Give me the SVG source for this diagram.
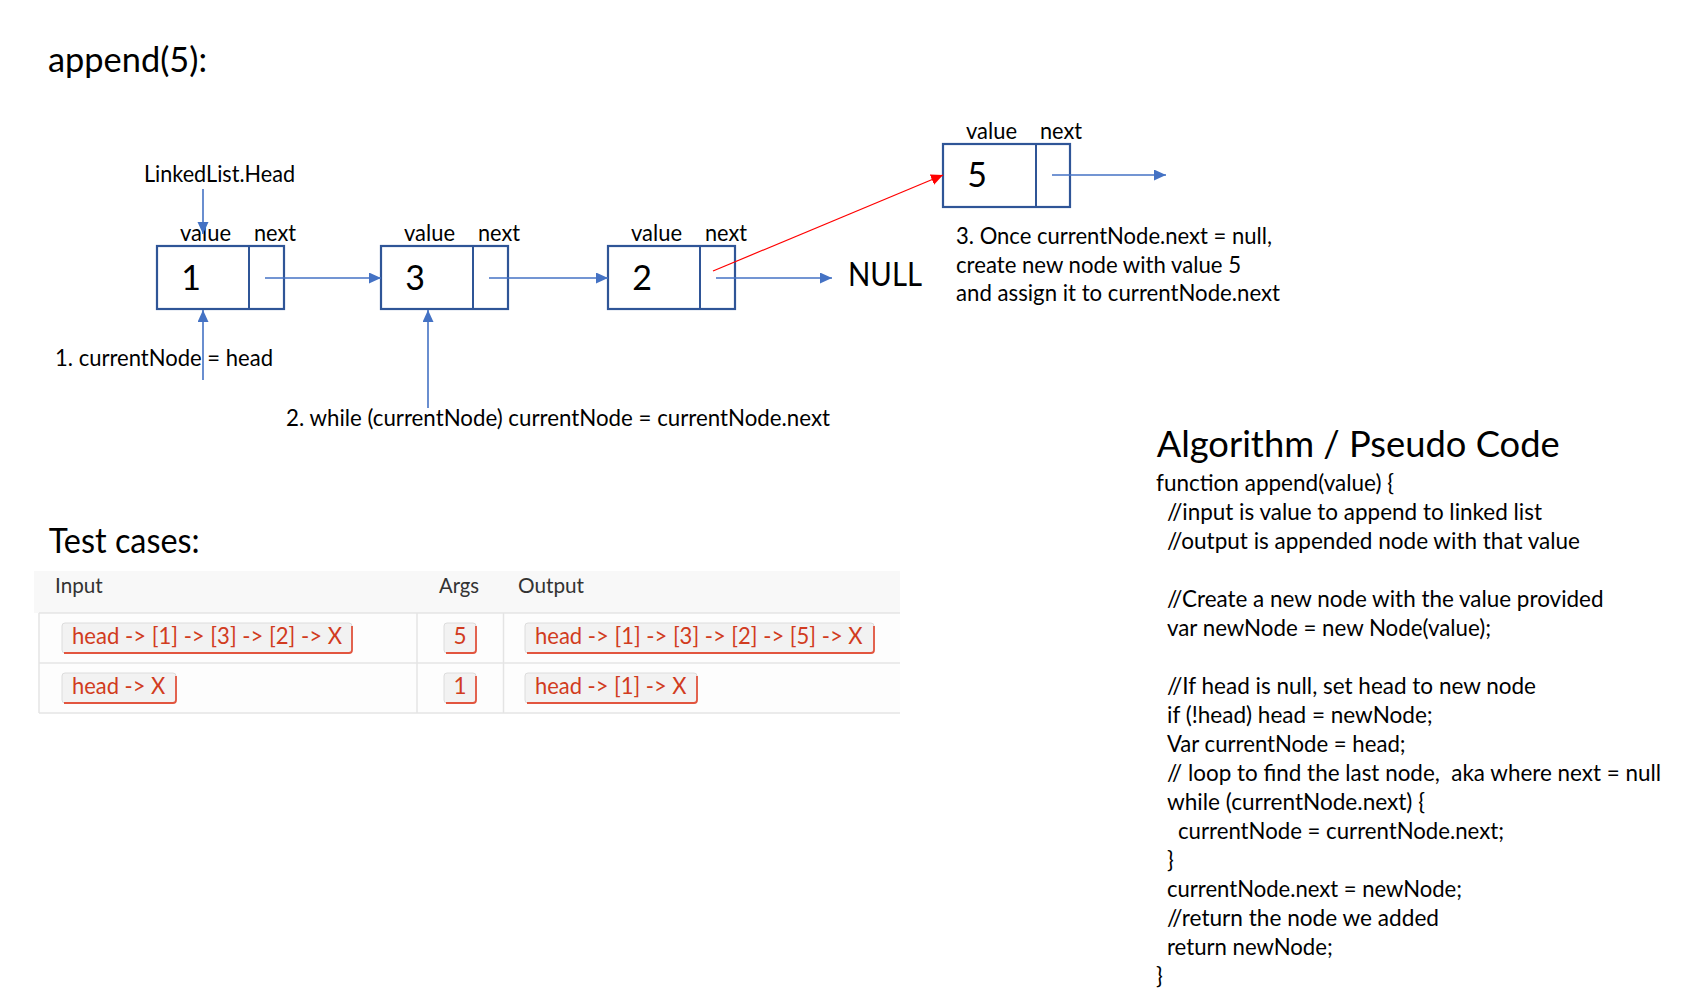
<svg xmlns="http://www.w3.org/2000/svg" width="1684" height="1004" viewBox="0 0 1684 1004">
<defs>
<style>
text{font-family:Lato,"Liberation Sans",sans-serif;fill:#000}
.box{fill:#fff;stroke:#2F5597;stroke-width:2.2}
.div{stroke:#2F5597;stroke-width:2}
.lbl{font-size:22.5px}
.num{font-size:34px;text-anchor:middle}
.arr{stroke:#4472C4;stroke-width:1.6;fill:none;marker-end:url(#ab)}
.red{stroke:#FF0000;stroke-width:1.2;fill:none;marker-end:url(#ar)}
.code{font-size:22.5px}
.th{font-size:20.5px;fill:#333}
.chip{fill:#F2F2F2;stroke:#DCDCDC;stroke-width:1}
.chipb{fill:none;stroke:#E2553F;stroke-width:1.8}
.ct{font-size:22.5px;fill:#D13B20}
.tl{stroke:#E4E4E4;stroke-width:1.5}
</style>
<marker id="ab" markerUnits="userSpaceOnUse" markerWidth="13" markerHeight="12" refX="12" refY="5.5" orient="auto"><path d="M0,0 L12,5.5 L0,11 z" fill="#4472C4"/></marker>
<marker id="ar" markerUnits="userSpaceOnUse" markerWidth="13" markerHeight="12" refX="12" refY="5.5" orient="auto"><path d="M0,0 L12,5.5 L0,11 z" fill="#FF0000"/></marker>
</defs>
<rect width="1684" height="1004" fill="#fff"/>

<text x="48" y="72" style="font-size:34px" textLength="159" lengthAdjust="spacingAndGlyphs">append(5):</text>

<g id="node1">
<rect class="box" x="157" y="246" width="127" height="63"/>
<line class="div" x1="249" y1="246" x2="249" y2="309"/>
<text class="lbl" x="180" y="241" textLength="51" lengthAdjust="spacingAndGlyphs">value</text>
<text class="lbl" x="254" y="241" textLength="42" lengthAdjust="spacingAndGlyphs">next</text>
<text class="num" x="191" y="290">1</text>
</g>
<g id="node2">
<rect class="box" x="381" y="246" width="127" height="63"/>
<line class="div" x1="473" y1="246" x2="473" y2="309"/>
<text class="lbl" x="404" y="241" textLength="51" lengthAdjust="spacingAndGlyphs">value</text>
<text class="lbl" x="478" y="241" textLength="42" lengthAdjust="spacingAndGlyphs">next</text>
<text class="num" x="415" y="290">3</text>
</g>
<g id="node3">
<rect class="box" x="608" y="246" width="127" height="63"/>
<line class="div" x1="700" y1="246" x2="700" y2="309"/>
<text class="lbl" x="631" y="241" textLength="51" lengthAdjust="spacingAndGlyphs">value</text>
<text class="lbl" x="705" y="241" textLength="42" lengthAdjust="spacingAndGlyphs">next</text>
<text class="num" x="642" y="290">2</text>
</g>
<g id="node5">
<rect class="box" x="943" y="144" width="127" height="63"/>
<line class="div" x1="1036" y1="144" x2="1036" y2="207"/>
<text class="lbl" x="966" y="139" textLength="51" lengthAdjust="spacingAndGlyphs">value</text>
<text class="lbl" x="1040" y="139" textLength="42" lengthAdjust="spacingAndGlyphs">next</text>
<text class="num" x="977" y="187">5</text>
</g>
<g id="null">
<text x="848" y="286" style="font-size:32px" textLength="74" lengthAdjust="spacingAndGlyphs">NULL</text>
</g>
<g id="labels">
<text class="lbl" x="144" y="182" textLength="151" lengthAdjust="spacingAndGlyphs">LinkedList.Head</text>
<text class="lbl" x="55" y="366" textLength="218" lengthAdjust="spacingAndGlyphs">1. currentNode = head</text>
<text class="lbl" x="286" y="426" textLength="544" lengthAdjust="spacingAndGlyphs">2. while (currentNode) currentNode = currentNode.next</text>
<text class="lbl" x="956" y="244" textLength="316" lengthAdjust="spacingAndGlyphs">3. Once currentNode.next = null,</text>
<text class="lbl" x="956" y="273" textLength="285" lengthAdjust="spacingAndGlyphs">create new node with value 5</text>
<text class="lbl" x="956" y="301" textLength="324" lengthAdjust="spacingAndGlyphs">and assign it to currentNode.next</text>
</g>

<g id="connectors">
<line class="arr" x1="265" y1="278" x2="381" y2="278"/>
<line class="arr" x1="489" y1="278" x2="608" y2="278"/>
<line class="arr" x1="716" y1="278" x2="832" y2="278"/>
<line class="arr" x1="1052" y1="175" x2="1166" y2="175"/>
<line class="arr" x1="203" y1="189" x2="203" y2="234"/>
<line class="arr" x1="203" y1="380" x2="203" y2="310"/>
<line class="arr" x1="428" y1="408" x2="428" y2="310"/>
<line class="red" x1="713" y1="271" x2="943" y2="175"/>
</g>

<g id="testcases">
<text x="48.7" y="553" style="font-size:34px" textLength="151" lengthAdjust="spacingAndGlyphs">Test cases:</text>
<rect x="34" y="571" width="866" height="42" fill="#F8F8F8"/>
<rect x="39" y="613" width="861" height="100" fill="#FDFDFD"/>
<line class="tl" x1="39" y1="613" x2="900" y2="613"/>
<line class="tl" x1="39" y1="663" x2="900" y2="663"/>
<line class="tl" x1="39" y1="713" x2="900" y2="713"/>
<line class="tl" x1="39" y1="613" x2="39" y2="713"/>
<line class="tl" x1="417" y1="613" x2="417" y2="713"/>
<line class="tl" x1="503.5" y1="613" x2="503.5" y2="713"/>
<text class="th" x="55" y="593" textLength="47.7" lengthAdjust="spacingAndGlyphs">Input</text>
<text class="th" x="439" y="593" textLength="40" lengthAdjust="spacingAndGlyphs">Args</text>
<text class="th" x="518" y="593" textLength="66" lengthAdjust="spacingAndGlyphs">Output</text>

<rect class="chip" x="62" y="623" width="290" height="30" rx="3"/>
<path class="chipb" d="M64,653 L349,653 Q352,653 352,650 L352,626"/>
<text class="ct" x="72" y="644" textLength="270" lengthAdjust="spacingAndGlyphs">head -&gt; [1] -&gt; [3] -&gt; [2] -&gt; X</text>

<rect class="chip" x="444" y="623" width="32" height="30" rx="3"/>
<path class="chipb" d="M446,653 L473,653 Q476,653 476,650 L476,626"/>
<text class="ct" x="460" y="644" text-anchor="middle">5</text>

<rect class="chip" x="525" y="623" width="349" height="30" rx="3"/>
<path class="chipb" d="M527,653 L871,653 Q874,653 874,650 L874,626"/>
<text class="ct" x="535" y="644" textLength="327.6" lengthAdjust="spacingAndGlyphs">head -&gt; [1] -&gt; [3] -&gt; [2] -&gt; [5] -&gt; X</text>

<rect class="chip" x="62" y="673" width="114" height="30" rx="3"/>
<path class="chipb" d="M64,703 L173,703 Q176,703 176,700 L176,676"/>
<text class="ct" x="72" y="694" textLength="93.3" lengthAdjust="spacingAndGlyphs">head -&gt; X</text>

<rect class="chip" x="444" y="673" width="32" height="30" rx="3"/>
<path class="chipb" d="M446,703 L473,703 Q476,703 476,700 L476,676"/>
<text class="ct" x="460" y="694" text-anchor="middle">1</text>

<rect class="chip" x="525" y="673" width="172" height="30" rx="3"/>
<path class="chipb" d="M527,703 L694,703 Q697,703 697,700 L697,676"/>
<text class="ct" x="535" y="694" textLength="151.6" lengthAdjust="spacingAndGlyphs">head -&gt; [1] -&gt; X</text>
</g>

<g id="pseudocode">
<text x="1156.7" y="457" style="font-size:37px" textLength="403" lengthAdjust="spacingAndGlyphs">Algorithm / Pseudo Code</text>
<text class="code" x="1156" y="491" textLength="238" lengthAdjust="spacingAndGlyphs">function append(value) {</text>
<text class="code" x="1167" y="520" textLength="375" lengthAdjust="spacingAndGlyphs">//input is value to append to linked list</text>
<text class="code" x="1167" y="549" textLength="413" lengthAdjust="spacingAndGlyphs">//output is appended node with that value</text>
<text class="code" x="1167" y="607" textLength="436.5" lengthAdjust="spacingAndGlyphs">//Create a new node with the value provided</text>
<text class="code" x="1167" y="636" textLength="324" lengthAdjust="spacingAndGlyphs">var newNode = new Node(value);</text>
<text class="code" x="1167" y="694" textLength="369" lengthAdjust="spacingAndGlyphs">//If head is null, set head to new node</text>
<text class="code" x="1167" y="723" textLength="265.7" lengthAdjust="spacingAndGlyphs">if (!head) head = newNode;</text>
<text class="code" x="1167" y="752" textLength="238.6" lengthAdjust="spacingAndGlyphs">Var currentNode = head;</text>
<text class="code" x="1167" y="781" xml:space="preserve" textLength="494" lengthAdjust="spacingAndGlyphs">// loop to find the last node,  aka where next = null</text>
<text class="code" x="1167" y="810" textLength="258" lengthAdjust="spacingAndGlyphs">while (currentNode.next) {</text>
<text class="code" x="1178" y="839" textLength="326" lengthAdjust="spacingAndGlyphs">currentNode = currentNode.next;</text>
<text class="code" x="1167" y="868">}</text>
<text class="code" x="1167" y="897" textLength="295" lengthAdjust="spacingAndGlyphs">currentNode.next = newNode;</text>
<text class="code" x="1167" y="926" textLength="272" lengthAdjust="spacingAndGlyphs">//return the node we added</text>
<text class="code" x="1167" y="955" textLength="165.7" lengthAdjust="spacingAndGlyphs">return newNode;</text>
<text class="code" x="1156" y="984">}</text>
</g>
</svg>
